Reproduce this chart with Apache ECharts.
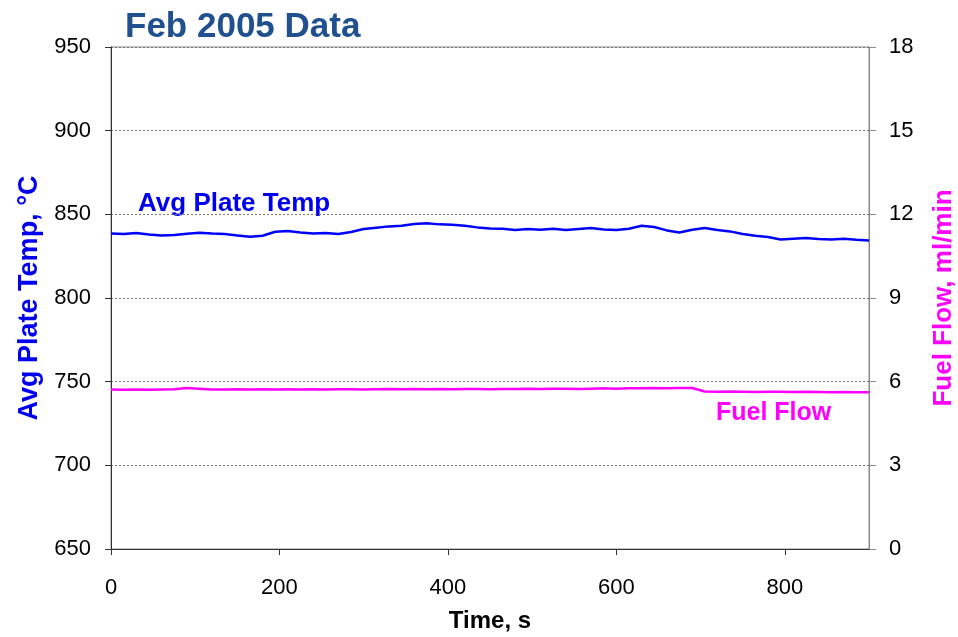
<!DOCTYPE html>
<html>
<head>
<meta charset="utf-8">
<script src="https://cdn.jsdelivr.net/npm/echarts@6/dist/echarts.min.js"></script>
<style>
  html, body { margin: 0; padding: 0; background: #fff; }
  #chart { width: 958px; height: 637px; }
</style>
</head>
<body>
<div id="chart"></div>
<script>
// 时间 (s)
const times = [0, 15, 30, 45, 60, 75, 90, 105, 120, 135, 150, 165, 180, 195, 210, 225, 240, 255, 270, 285,
  300, 315, 330, 345, 360, 375, 390, 405, 420, 435, 450, 465, 480, 495, 510, 525, 540, 555, 570, 585,
  600, 615, 630, 645, 660, 675, 690, 705, 720, 735, 750, 765, 780, 795, 810, 825, 840, 855, 870, 885, 900];

// 平均板温 (°C)
const plateTemp = [838.6, 838.2, 838.8, 838.0, 837.3, 837.6, 838.4, 839.0, 838.5, 838.2, 837.4, 836.6, 837.2, 839.6, 840.0, 839.2, 838.6, 838.9, 838.3, 839.4,
  841.2, 842.0, 842.8, 843.2, 844.2, 844.6, 844.0, 843.8, 843.2, 842.2, 841.6, 841.4, 840.6, 841.2, 840.8, 841.4, 840.6, 841.2, 841.8, 841.0,
  840.6, 841.4, 843.2, 842.4, 840.4, 839.2, 840.8, 841.8, 840.6, 839.8, 838.2, 837.2, 836.4, 835.0, 835.4, 835.8, 835.2, 835.0, 835.4, 834.8, 834.4];

// 燃料流量 (ml/min)
const fuelFlow = [5.72, 5.71, 5.72, 5.71, 5.72, 5.73, 5.77, 5.75, 5.72, 5.72, 5.73, 5.72, 5.73, 5.72, 5.73, 5.72, 5.73, 5.72, 5.73, 5.73,
  5.72, 5.73, 5.74, 5.73, 5.74, 5.73, 5.74, 5.73, 5.74, 5.74, 5.73, 5.74, 5.74, 5.75, 5.74, 5.75, 5.75, 5.74, 5.75, 5.76,
  5.75, 5.76, 5.76, 5.77, 5.76, 5.77, 5.77, 5.65, 5.64, 5.65, 5.64, 5.63, 5.64, 5.64, 5.63, 5.64, 5.63, 5.62, 5.63, 5.62, 5.62];

const font = 'Liberation Sans, Arial, sans-serif';

const myChart = echarts.init(document.getElementById('chart'));

const option = {
    animation: false,
    textStyle: { fontFamily: font },
    grid: {
        left: 111, right: 89, top: 47, bottom: 88,
        outerBoundsMode: 'none',
        containLabel: false,
        show: true, borderColor: '#888', borderWidth: 1
    },
    graphic: [
        {
            type: 'text', left: 125, top: 10,
            style: { text: 'Feb 2005 Data', font: 'bold 35px ' + font, fill: '#21508f' }
        },
        {
            type: 'text', left: 138, top: 191,
            style: { text: 'Avg Plate Temp', font: 'bold 26px ' + font, fill: '#0000ee' }
        },
        {
            type: 'text', left: 716, top: 401,
            style: { text: 'Fuel Flow', font: 'bold 25px ' + font, fill: '#ff00ff' }
        }
    ],
    xAxis: {
        type: 'value',
        min: 0, max: 900, interval: 200,
        name: 'Time, s',
        nameLocation: 'middle',
        nameGap: 60,
        nameTextStyle: { fontSize: 24, fontWeight: 'bold', color: '#000', fontFamily: font },
        axisLine: { lineStyle: { color: '#333', width: 1 } },
        axisTick: { inside: false, length: 6, lineStyle: { color: '#333' } },
        axisLabel: { fontSize: 22, color: '#000', margin: 28, showMaxLabel: false },
        splitLine: { show: false }
    },
    yAxis: [
        {
            type: 'value',
            min: 650, max: 950, interval: 50,
            name: 'Avg Plate Temp, °C',
            nameLocation: 'middle',
            nameRotate: 90,
            nameGap: 64,
            nameTextStyle: { fontSize: 27, fontWeight: 'bold', color: '#0000ee', fontFamily: font },
            axisLine: { show: true, lineStyle: { color: '#333', width: 1 } },
            axisTick: { show: true, length: 6, lineStyle: { color: '#333' } },
            axisLabel: { fontSize: 22, color: '#000', margin: 20 },
            splitLine: { show: true, lineStyle: { color: '#777', type: [2, 2], width: 1 } }
        },
        {
            type: 'value',
            position: 'right',
            min: 0, max: 18, interval: 3,
            name: 'Fuel Flow, ml/min',
            nameLocation: 'middle',
            nameRotate: 90,
            nameGap: 62,
            nameTextStyle: { fontSize: 26, fontWeight: 'bold', color: '#ff00ff', fontFamily: font },
            axisLine: { show: true, lineStyle: { color: '#888', width: 1 } },
            axisTick: { show: true, length: 7, lineStyle: { color: '#888' } },
            axisLabel: { fontSize: 22, color: '#000', margin: 20 },
            splitLine: { show: false }
        }
    ],
    series: [
        {
            name: 'Avg Plate Temp',
            type: 'line',
            yAxisIndex: 0,
            showSymbol: false,
            lineStyle: { color: '#0000ff', width: 2.5 },
            data: times.map((t, i) => [t, plateTemp[i]])
        },
        {
            name: 'Fuel Flow',
            type: 'line',
            yAxisIndex: 1,
            showSymbol: false,
            lineStyle: { color: '#ff00ff', width: 2.5 },
            data: times.map((t, i) => [t, fuelFlow[i]])
        }
    ]
};

myChart.setOption(option);
</script>
</body>
</html>
